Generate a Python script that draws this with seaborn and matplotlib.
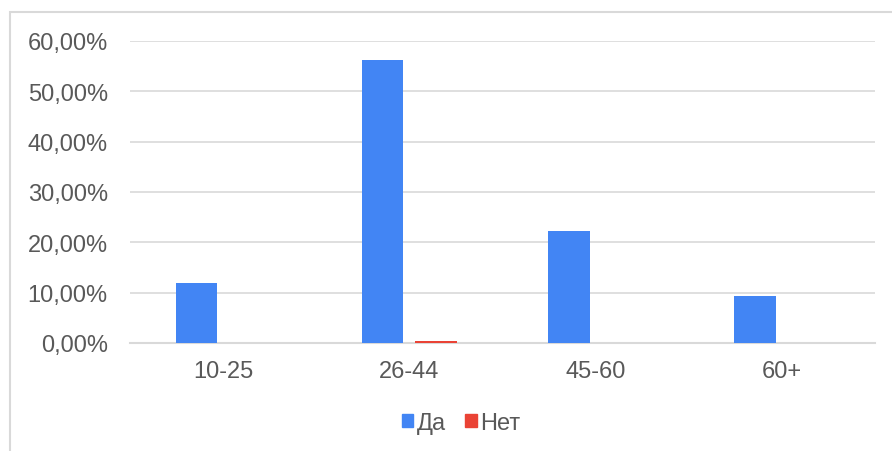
import matplotlib
matplotlib.use('Agg')
import matplotlib.pyplot as plt
import matplotlib.ticker as mticker
from matplotlib.patches import Rectangle
import pandas as pd
import seaborn as sns

# Data
age_groups = ['10-25', '26-44', '45-60', '60+']
yes_values = [0.1192, 0.5626, 0.2227, 0.0928]
no_values = [0.0, 0.004, 0.0, 0.0]
series_names = ['Да', 'Нет']

COLORS = {'Да': '#4285F4', 'Нет': '#EA4335'}
TEXT_COLOR = '#595959'
GRID_COLOR = '#D9D9D9'

df = pd.DataFrame({
    'group': age_groups * 2,
    'answer': [series_names[0]] * len(age_groups) + [series_names[1]] * len(age_groups),
    'value': yes_values + no_values,
})

sns.set_theme(style='white')
plt.rcParams['font.family'] = ['Liberation Sans', 'DejaVu Sans']

fig = plt.figure(figsize=(8.92, 4.52), dpi=100)
ax = fig.add_axes([130 / 892, 1 - 344 / 452, 745 / 892, 302 / 452])

sns.barplot(data=df, x='group', y='value', hue='answer', order=age_groups,
            hue_order=series_names, palette=COLORS, saturation=1,
            width=0.575, gap=0.225, linewidth=0, legend=False, ax=ax)
# keep the tiny "Нет" bar visible above the axis line
for bar in ax.patches:
    bar.set_zorder(3)

# axes styling
ax.set_ylim(0, 0.6)
ax.yaxis.set_major_locator(mticker.MultipleLocator(0.1))
ax.yaxis.set_major_formatter(
    mticker.FuncFormatter(lambda v, _: f'{v * 100:.2f}%'.replace('.', ',')))
ax.grid(axis='y', color=GRID_COLOR, linewidth=1.2)
ax.set_axisbelow(True)
for side in ['top', 'right', 'left']:
    ax.spines[side].set_visible(False)
ax.spines['bottom'].set_color(GRID_COLOR)
ax.spines['bottom'].set_linewidth(1.5)
ax.set_xlabel('')
ax.set_ylabel('')
ax.tick_params(axis='both', length=0, labelsize=17, labelcolor=TEXT_COLOR)
ax.tick_params(axis='y', pad=16)
ax.tick_params(axis='x', pad=12)

# legend below
handles = [Rectangle((0, 0), 1, 1, color=COLORS[n]) for n in series_names]
fig.legend(handles, series_names, loc='center', bbox_to_anchor=(461 / 892, 1 - 424 / 452),
           ncol=2, frameon=False, fontsize=17, labelcolor=TEXT_COLOR,
           handlelength=0.5, handleheight=0.5, handletextpad=0.15, columnspacing=0.8)

# outer chart frame (cropped on the right and bottom)
fig.patches.append(Rectangle((10 / 892, -0.1), 1.2, 1 - 13 / 452 + 0.1,
                             transform=fig.transFigure, fill=False,
                             edgecolor=GRID_COLOR, linewidth=1.5))

fig.savefig('out.png', dpi=100)
